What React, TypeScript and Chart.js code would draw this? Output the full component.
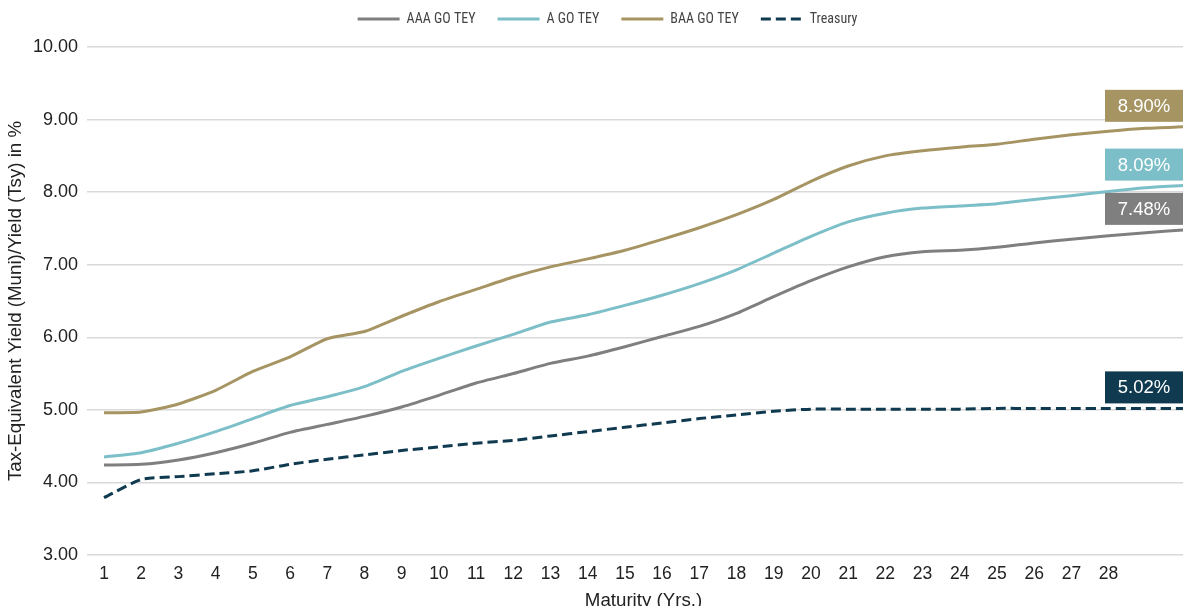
import React, { useEffect, useRef } from 'react';
import { Chart, registerables } from 'chart.js';

Chart.register(...registerables);

const maturityLabels = [
  '1', '2', '3', '4', '5', '6', '7', '8', '9', '10',
  '11', '12', '13', '14', '15', '16', '17', '18', '19', '20',
  '21', '22', '23', '24', '25', '26', '27', '28', '', '',
];

const aaaGoTey = [
  4.24, 4.25, 4.31, 4.41, 4.54, 4.69, 4.8, 4.91, 5.04, 5.2,
  5.37, 5.5, 5.64, 5.74, 5.87, 6.01, 6.15, 6.33, 6.56, 6.78,
  6.97, 7.11, 7.18, 7.2, 7.24, 7.3, 7.35, 7.4, 7.44, 7.48,
];

const aGoTey = [
  4.35, 4.41, 4.54, 4.7, 4.88, 5.06, 5.18, 5.32, 5.53, 5.71,
  5.88, 6.04, 6.21, 6.31, 6.44, 6.58, 6.74, 6.93, 7.16, 7.39,
  7.59, 7.71, 7.78, 7.81, 7.84, 7.9, 7.95, 8.01, 8.06, 8.09,
];

const baaGoTey = [
  4.96, 4.97, 5.08, 5.27, 5.53, 5.73, 5.98, 6.08, 6.29, 6.49,
  6.66, 6.83, 6.97, 7.08, 7.2, 7.35, 7.51, 7.69, 7.9, 8.15,
  8.36, 8.5, 8.57, 8.62, 8.66, 8.73, 8.79, 8.84, 8.88, 8.9,
];

const treasury = [
  3.79, 4.04, 4.08, 4.12, 4.16, 4.25, 4.32, 4.38, 4.44, 4.49,
  4.54, 4.58, 4.64, 4.7, 4.76, 4.82, 4.88, 4.93, 4.98, 5.01,
  5.01, 5.01, 5.01, 5.01, 5.02, 5.02, 5.02, 5.02, 5.02, 5.02,
];

const seriesNames = ['AAA GO TEY', 'A GO TEY', 'BAA GO TEY', 'Treasury'];
const seriesColors = ['#7f7f7f', '#7dbfc8', '#a69463', '#0f3a4f'];
const seriesDash = [[], [], [], [10, 5]];

const yMin = 3;
const yMax = 10;
const yStep = 1;

const xTitle = 'Maturity (Yrs.)';
const yTitle = 'Tax-Equivalent Yield (Muni)/Yield (Tsy) in %';

const FONT = "'Liberation Sans', Arial, sans-serif";
const LEGEND_FONT = "'Liberation Sans Narrow', 'Roboto Condensed', Roboto, sans-serif";

const endLabels = {
  id: 'endLabels',
  afterDatasetsDraw(chart: any) {
    const ctx = chart.ctx;
    chart.data.datasets.forEach((ds: any, i: number) => {
      const meta = chart.getDatasetMeta(i);
      const pt = meta.data[meta.data.length - 1];
      const val = ds.data[ds.data.length - 1];
      const w = 78;
      const h = 32;
      const right = pt.x;
      const bottom = pt.y - 5;
      ctx.save();
      ctx.fillStyle = ds.borderColor;
      ctx.fillRect(right - w, bottom - h, w, h);
      ctx.fillStyle = '#ffffff';
      ctx.font = `18.5px ${FONT}`;
      ctx.textAlign = 'center';
      ctx.textBaseline = 'middle';
      ctx.fillText(Number(val).toFixed(2) + '%', right - w / 2, bottom - h / 2 + 1);
      ctx.restore();
    });
  },
};

const legendSpacing = {
  id: 'legendSpacing',
  beforeInit(chart: any) {
    const legend = chart.legend;
    if (!legend) return;
    const fit = legend.fit;
    legend.fit = function () {
      fit.call(this);
      this.height += 11;
    };
  },
  afterUpdate(chart: any) {
    const legend = chart.legend;
    if (!legend) return;
    legend.left += 16;
    legend.right += 16;
  },
};

export default function App() {
  const ref = useRef<HTMLCanvasElement | null>(null);

  useEffect(() => {
    if (!ref.current) return;
    const all = [aaaGoTey, aGoTey, baaGoTey, treasury];
    const chart = new Chart(ref.current, {
      type: 'line',
      data: {
        labels: maturityLabels,
        datasets: all.map((d, i) => ({
          label: seriesNames[i],
          data: d,
          borderColor: seriesColors[i],
          backgroundColor: seriesColors[i],
          borderWidth: 3,
          borderDash: seriesDash[i],
          pointRadius: 0,
          tension: 0.2,
          fill: false,
        })),
      },
      options: {
        animation: false,
        responsive: true,
        maintainAspectRatio: false,
        layout: { padding: { top: -10, right: 3, bottom: 0, left: 0 } },
        plugins: {
          legend: {
            position: 'top',
            labels: {
              usePointStyle: true,
              pointStyle: 'line',
              pointStyleWidth: 42,
              padding: 22,
              color: '#444444',
              font: { family: LEGEND_FONT, size: 14 },
              generateLabels: (chart: any) =>
                chart.data.datasets.map((ds: any, i: number) => ({
                  text: ds.label,
                  fillStyle: ds.borderColor,
                  strokeStyle: ds.borderColor,
                  lineWidth: 3,
                  lineDash: ds.borderDash,
                  lineCap: 'butt',
                  pointStyle: 'line',
                  fontColor: '#444444',
                  hidden: false,
                  datasetIndex: i,
                })),
            },
          },
          tooltip: { enabled: false },
        },
        scales: {
          x: {
            type: 'category',
            offset: false,
            grid: { display: false, drawTicks: false },
            border: { display: false },
            ticks: {
              autoSkip: false,
              maxRotation: 0,
              padding: 9,
              color: '#222222',
              font: { family: FONT, size: 17.5 },
            },
            title: {
              display: true,
              text: xTitle,
              color: '#222222',
              font: { family: FONT, size: 18.7 },
              padding: { top: 0, bottom: 0 },
            },
            afterFit: (s: any) => {
              s.height = 57;
              s.paddingRight = 0;
              s.paddingLeft = 0;
            },
          },
          y: {
            min: yMin,
            max: yMax,
            ticks: {
              stepSize: yStep,
              padding: 9,
              color: '#222222',
              font: { family: FONT, size: 18 },
              callback: (v: any) => Number(v).toFixed(2),
            },
            grid: { color: '#d9d9d9', lineWidth: 1.5, tickLength: 17, drawTicks: true },
            border: { display: false },
            title: {
              display: true,
              text: yTitle,
              color: '#222222',
              font: { family: FONT, size: 18.7 },
              padding: { top: 5, bottom: 0 },
            },
            afterFit: (s: any) => {
              s.width = 104;
            },
          },
        },
      },
      plugins: [legendSpacing, endLabels],
    } as any);
    return () => chart.destroy();
  }, []);

  return (
    <div style={{ position: 'fixed', left: 0, top: 0, width: 1186, height: 612, background: '#ffffff' }}>
      <canvas ref={ref} />
    </div>
  );
}
